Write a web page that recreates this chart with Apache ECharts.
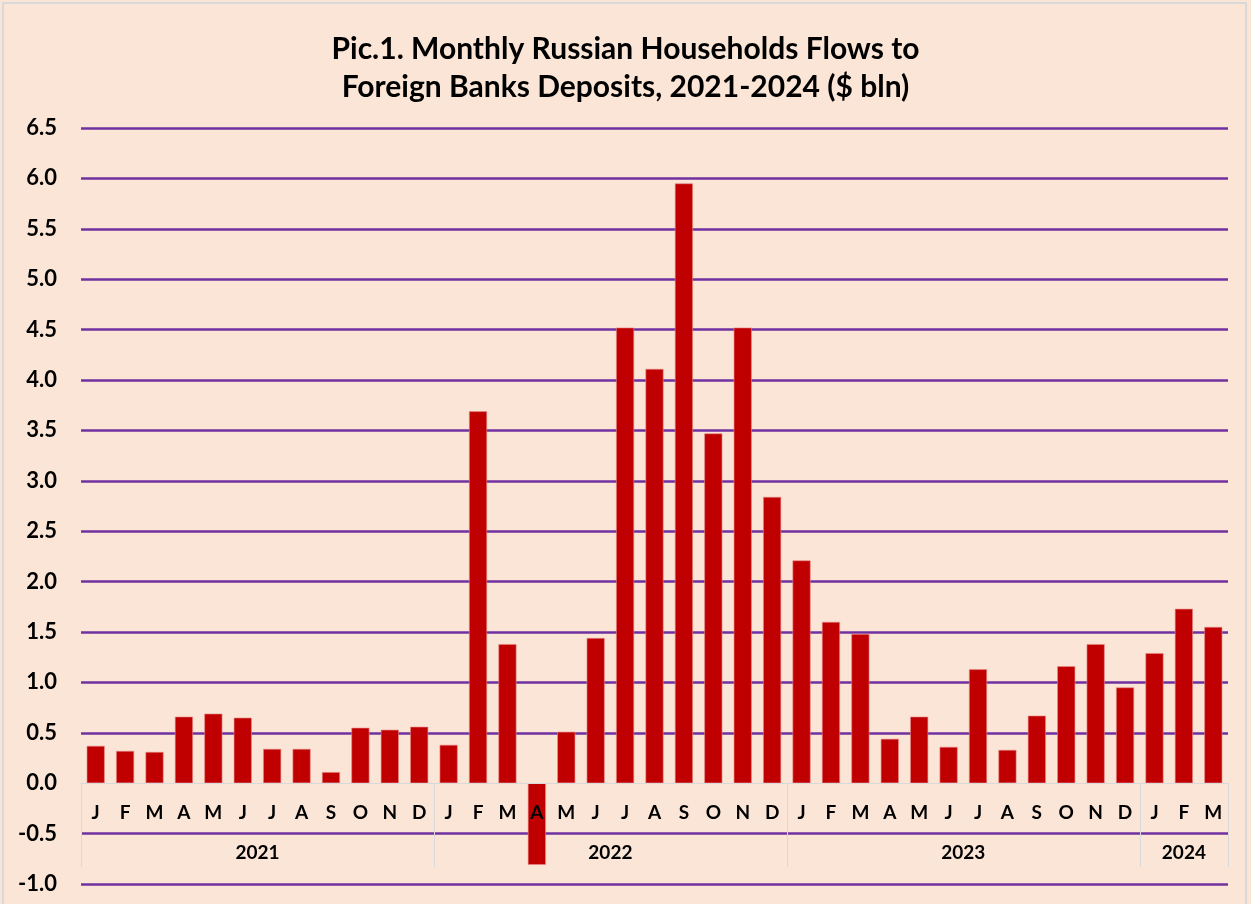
<!DOCTYPE html>
<html>
<head>
<meta charset="utf-8">
<script src="https://cdn.jsdelivr.net/npm/echarts@6/dist/echarts.min.js"></script>
<style>
  html, body { margin: 0; padding: 0; background: #ffffff; }
  #chart { width: 1251px; height: 904px; }
  .frame {
    position: absolute; left: 2px; top: 2px; width: 1245px; height: 920px;
    border: 2px solid #d9d9d9; box-sizing: border-box; pointer-events: none;
  }
</style>
</head>
<body>
<div id="chart"></div>
<div class="frame"></div>
<script>
// months of each year (2021..2024 Mar)
const months = ['J','F','M','A','M','J','J','A','S','O','N','D',
                'J','F','M','A','M','J','J','A','S','O','N','D',
                'J','F','M','A','M','J','J','A','S','O','N','D',
                'J','F','M'];
const flows = [0.37, 0.32, 0.31, 0.66, 0.69, 0.65, 0.34, 0.34, 0.11, 0.55, 0.53, 0.56,
               0.38, 3.69, 1.38, -0.81, 0.51, 1.44, 4.52, 4.11, 5.95, 3.47, 4.52, 2.84,
               2.21, 1.60, 1.48, 0.44, 0.66, 0.36, 1.13, 0.33, 0.67, 1.16, 1.38, 0.95,
               1.29, 1.73, 1.55];
const years = ['2021', '2022', '2023', '2024'];
const yearStart = [0, 12, 24, 36, 39];   // month index where each year begins (plus end)
const yearMid = [6, 18, 30, 37.5];

const chart = echarts.init(document.getElementById('chart'));

// hide the purple split line on 0.0 (the gray axis line sits there)
const gridColors = [];
for (let v = -1; v <= 6.5001; v += 0.5) {
  gridColors.push(Math.abs(v) < 1e-6 ? 'rgba(0,0,0,0)' : '#7030a0');
}

const option = {
  backgroundColor: '#fbe5d6',
  textStyle: { fontFamily: 'Lato' },
  title: {
    text: 'Pic.1. Monthly Russian Households Flows to\nForeign Banks Deposits, 2021-2024 ($ bln)',
    left: 'center',
    top: 25,
    textStyle: {
      fontFamily: 'Lato',
      fontSize: 30,
      fontWeight: 'bold',
      color: '#000',
      lineHeight: 38
    }
  },
  grid: { left: 81, right: 23, top: 128, bottom: 20, outerBoundsMode: 'none' },
  xAxis: [
    {
      // month row, sitting on the 0.0 line (2 gridsteps above the bottom)
      type: 'category',
      data: months,
      position: 'bottom',
      offset: -101,
      z: 10,
      axisLine: { onZero: false, lineStyle: { color: '#d9d9d9', width: 1 } },
      axisTick: { show: false },
      axisLabel: {
        margin: 20,
        fontSize: 19,
        fontWeight: 'bold',
        color: '#000',
        interval: 0
      }
    },
    {
      // year row with separators
      type: 'value',
      min: 0,
      max: 39,
      position: 'bottom',
      offset: -17,
      z: 10,
      splitLine: { show: false },
      axisLine: { show: false, onZero: false },
      axisTick: {
        show: true,
        inside: true,
        length: 84,
        customValues: yearStart,
        lineStyle: { color: '#d9d9d9', width: 1 }
      },
      axisLabel: {
        inside: true,
        margin: 5,
        fontSize: 19,
        fontWeight: 'bold',
        color: '#000',
        customValues: yearMid,
        formatter: function (v) { return years[yearMid.indexOf(v)]; }
      }
    }
  ],
  yAxis: {
    type: 'value',
    min: -1,
    max: 6.5,
    interval: 0.5,
    axisLine: { show: false },
    axisTick: { show: false },
    axisLabel: {
      margin: 24,
      fontSize: 22,
      fontWeight: 'bold',
      color: '#000',
      formatter: function (v) { return v.toFixed(1); }
    },
    splitLine: { lineStyle: { color: gridColors, width: 2.5 } }
  },
  series: [
    {
      type: 'bar',
      data: flows,
      xAxisIndex: 0,
      barWidth: 18,
      itemStyle: { color: '#c00000', borderColor: '#e88a8a', borderWidth: 0.6 }
    }
  ]
};

chart.setOption(option);
</script>
</body>
</html>
